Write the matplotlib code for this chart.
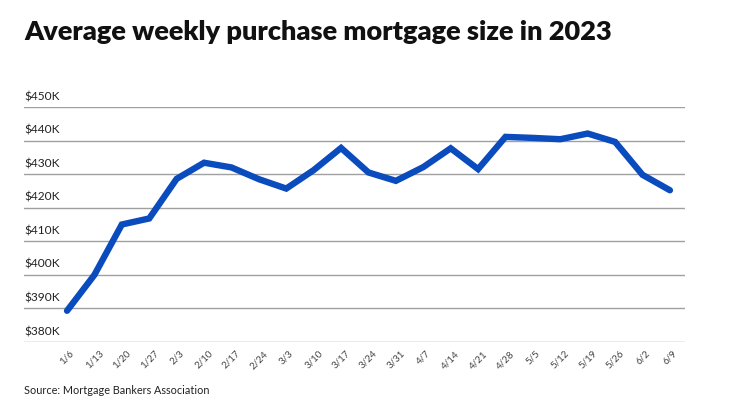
import matplotlib
matplotlib.use("Agg")

import matplotlib.pyplot as plt
import matplotlib.transforms as mtransforms


# Data (values in $K)
weeks = ["1/6", "1/13", "1/20", "1/27", "2/3", "2/10", "2/17", "2/24",
         "3/3", "3/10", "3/17", "3/24", "3/31", "4/7", "4/14", "4/21",
         "4/28", "5/5", "5/12", "5/19", "5/26", "6/2", "6/9"]

avg_size = [389.3, 400.0, 415.0, 416.8, 428.6, 433.4, 432.0, 428.5,
            425.7, 431.2, 437.8, 430.5, 428.0, 432.1, 437.7, 431.5,
            441.1, 440.8, 440.4, 442.1, 439.6, 429.8, 425.2]

y_ticks = [380, 390, 400, 410, 420, 430, 440, 450]
y_labels = ["$380K", "$390K", "$400K", "$410K", "$420K", "$430K", "$440K", "$450K"]


plt.rcParams["font.family"] = ["Lato", "DejaVu Sans"]

fig = plt.figure(figsize=(7.4, 4.16), dpi=100)
ax = fig.add_axes([24 / 740, 1 - 342 / 416, (685 - 24) / 740, (342 - 107) / 416])

x = list(range(len(weeks)))

ax.plot(x, avg_size, color="#0a4bbd", linewidth=4.6,
        solid_joinstyle="miter", solid_capstyle="round", zorder=3)

ax.set_ylim(380, 450)
ax.set_xlim(-1.57, len(weeks) - 1 + 0.55)

# gridlines
for v in y_ticks:
    ax.axhline(v, color="#a0a0a0", linewidth=1.0, zorder=1)

# y labels sit above the gridlines, left aligned
trans = mtransforms.blended_transform_factory(ax.transAxes, ax.transData)
offset = mtransforms.offset_copy(trans, fig=fig, x=0, y=3.5, units="points")
for v, lab in zip(y_ticks, y_labels):
    ax.text(0, v, lab, transform=offset, ha="left", va="bottom",
            fontsize=8.6, color="#222222")

ax.set_yticks([])
ax.set_xticks(x)
ax.set_xticklabels(weeks, rotation=45, ha="center", va="top",
                   fontsize=7, color="#444444")
ax.tick_params(axis="x", length=0, pad=5)

for s in ax.spines.values():
    s.set_visible(False)

fig.text(24 / 740, 1 - 32 / 416, "Average weekly purchase mortgage size in 2023",
         fontsize=19.5, fontweight="heavy", color="#111111",
         ha="left", va="center")

fig.text(24 / 740, 1 - 391 / 416, "Source: Mortgage Bankers Association",
         fontsize=7.8, color="#222222", ha="left", va="center")

fig.savefig("out.png", dpi=100)
